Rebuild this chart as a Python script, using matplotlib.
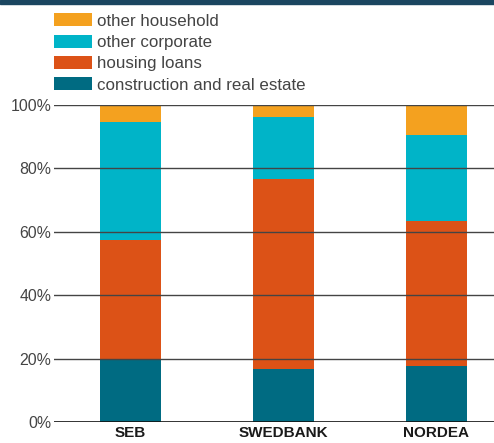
import matplotlib
matplotlib.use('Agg')
from matplotlib import pyplot as plt
from matplotlib.patches import Patch, Rectangle

plt.rcParams['font.family'] = ['Liberation Sans', 'DejaVu Sans']

# Data (share of lending, %)
banks = ['SEB', 'SWEDBANK', 'NORDEA']
construction = [20.0, 16.7, 17.9]
housing = [37.4, 60.1, 45.5]
corporate = [37.2, 19.5, 27.0]
household = [5.4, 3.7, 9.6]

labels = ['construction and real estate', 'housing loans', 'other corporate', 'other household']
colors = ['#006b82', '#dc5217', '#00b4c8', '#f4a11f']
series = [construction, housing, corporate, household]

fig = plt.figure(figsize=(4.94, 4.43), dpi=100)
ax = fig.add_axes([54 / 494, 20.7 / 443, 1 - 54 / 494, 317.3 / 443])

x = list(range(len(banks)))
bottom = [0.0] * len(banks)
for vals, col in zip(series, colors):
    ax.bar(x, vals, width=0.4, bottom=bottom, color=col, edgecolor='none', zorder=2)
    bottom = [b + v for b, v in zip(bottom, vals)]

# horizontal gridlines drawn on top of bars
for y in [20, 40, 60, 80, 100]:
    ax.axhline(y, color='#444444', linewidth=1.0, zorder=3)
ax.axhline(0, color='#111111', linewidth=1.2, zorder=3)

ax.set_xlim(-0.5, 2.376)
ax.set_ylim(0, 100)
ax.set_yticks([0, 20, 40, 60, 80, 100])
ax.set_yticklabels(['0%', '20%', '40%', '60%', '80%', '100%'])
ax.set_xticks(x)
ax.set_xticklabels(banks, fontweight='bold')
ax.tick_params(axis='y', length=0, pad=2, labelsize=11.4, labelcolor='#444444')
ax.tick_params(axis='x', length=0, pad=3, labelsize=11, labelcolor='#1a1a1a')
for s in ax.spines.values():
    s.set_visible(False)

# dark band at the top
fig.patches.append(Rectangle((0, 1 - 4 / 443), 1, 4 / 443, transform=fig.transFigure,
                             color='#1b4660', zorder=5))

handles = [Patch(facecolor=c, edgecolor='none') for c in colors[::-1]]
fig.legend(handles, labels[::-1], loc='upper left', bbox_to_anchor=(51 / 494, 1 - 10 / 443),
           frameon=False, fontsize=12.2, handlelength=2.2, handleheight=0.8,
           handletextpad=0.3, labelspacing=0.35, borderaxespad=0, borderpad=0.2,
           labelcolor='#444444')

fig.savefig('out.png', dpi=100)
